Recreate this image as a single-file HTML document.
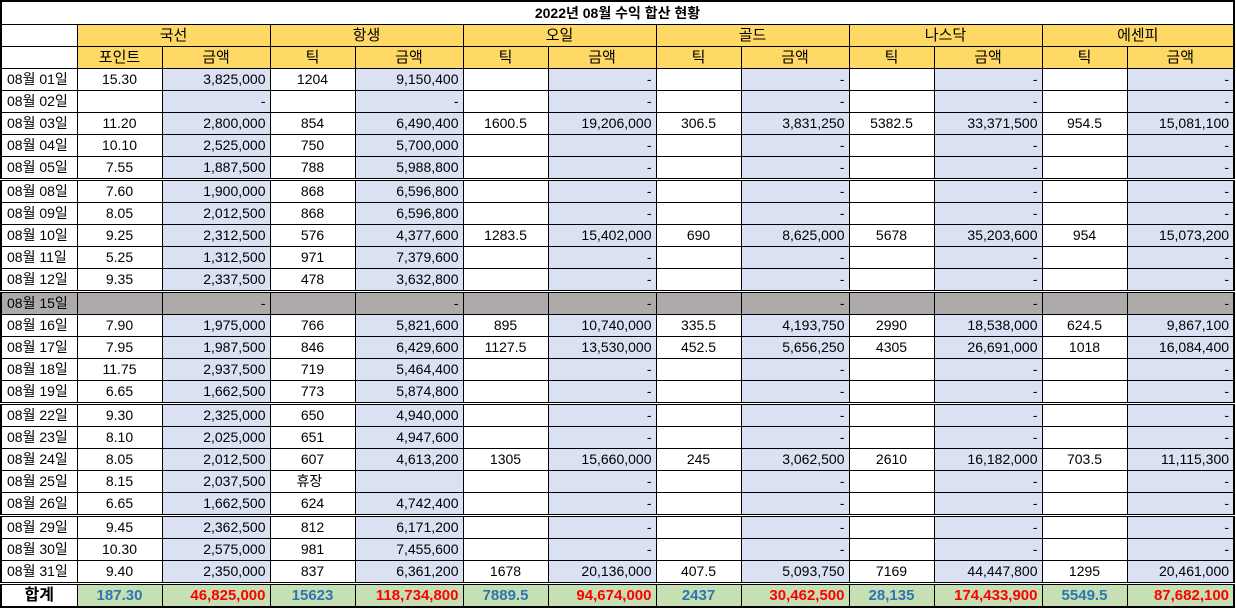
<!DOCTYPE html>
<html><head><meta charset="utf-8"><style>
html,body{margin:0;padding:0;background:#fff;}
body{width:1236px;height:609px;overflow:hidden;}
table{border-collapse:collapse;table-layout:fixed;width:1233px;font-family:"Liberation Sans","Noto Sans CJK KR",sans-serif;font-size:14px;color:#000;border:2px solid #000;}
td{border:1px solid #000;padding:0 4px;height:21px;line-height:19px;white-space:nowrap;overflow:hidden;text-align:center;}
tr.t td{height:22px;font-weight:bold;text-align:center;border-bottom:1px solid #000;}
tr.h td{background:#FFD966;height:21px;font-size:15px;}
td.d{text-align:left;padding-left:5px;}
td.a{background:#D9E1F2;text-align:right;}
tr.wk td{border-bottom:3px double #000;}
tr.g td{background:#AEAAAA;}
tr.tot td{border-top:3px double #000;background:#C6E0B4;font-weight:bold;font-size:15px;height:21px;}
tr.tot td.l{background:#fff;font-size:16px;}
td.b{color:#2E75B6;}
td.r{color:#FF0000;text-align:right;}
</style></head><body>
<table>
<colgroup><col style="width:76px"><col style="width:85px"><col style="width:108px"><col style="width:85px"><col style="width:108px"><col style="width:85px"><col style="width:108px"><col style="width:85px"><col style="width:108px"><col style="width:85px"><col style="width:108px"><col style="width:85px"><col style="width:107px"></colgroup>
<tr class="t"><td colspan="13">2022년 08월 수익 합산 현황</td></tr>
<tr class="h"><td style="background:#fff"></td><td colspan="2">국선</td><td colspan="2">항생</td><td colspan="2">오일</td><td colspan="2">골드</td><td colspan="2">나스닥</td><td colspan="2">에센피</td></tr>
<tr class="h"><td style="background:#fff"></td><td>포인트</td><td>금액</td><td>틱</td><td>금액</td><td>틱</td><td>금액</td><td>틱</td><td>금액</td><td>틱</td><td>금액</td><td>틱</td><td>금액</td></tr>
<tr><td class="d">08월 01일</td><td>15.30</td><td class="a">3,825,000</td><td>1204</td><td class="a">9,150,400</td><td></td><td class="a">-</td><td></td><td class="a">-</td><td></td><td class="a">-</td><td></td><td class="a">-</td></tr>
<tr><td class="d">08월 02일</td><td></td><td class="a">-</td><td></td><td class="a">-</td><td></td><td class="a">-</td><td></td><td class="a">-</td><td></td><td class="a">-</td><td></td><td class="a">-</td></tr>
<tr><td class="d">08월 03일</td><td>11.20</td><td class="a">2,800,000</td><td>854</td><td class="a">6,490,400</td><td>1600.5</td><td class="a">19,206,000</td><td>306.5</td><td class="a">3,831,250</td><td>5382.5</td><td class="a">33,371,500</td><td>954.5</td><td class="a">15,081,100</td></tr>
<tr><td class="d">08월 04일</td><td>10.10</td><td class="a">2,525,000</td><td>750</td><td class="a">5,700,000</td><td></td><td class="a">-</td><td></td><td class="a">-</td><td></td><td class="a">-</td><td></td><td class="a">-</td></tr>
<tr class="wk"><td class="d">08월 05일</td><td>7.55</td><td class="a">1,887,500</td><td>788</td><td class="a">5,988,800</td><td></td><td class="a">-</td><td></td><td class="a">-</td><td></td><td class="a">-</td><td></td><td class="a">-</td></tr>
<tr><td class="d">08월 08일</td><td>7.60</td><td class="a">1,900,000</td><td>868</td><td class="a">6,596,800</td><td></td><td class="a">-</td><td></td><td class="a">-</td><td></td><td class="a">-</td><td></td><td class="a">-</td></tr>
<tr><td class="d">08월 09일</td><td>8.05</td><td class="a">2,012,500</td><td>868</td><td class="a">6,596,800</td><td></td><td class="a">-</td><td></td><td class="a">-</td><td></td><td class="a">-</td><td></td><td class="a">-</td></tr>
<tr><td class="d">08월 10일</td><td>9.25</td><td class="a">2,312,500</td><td>576</td><td class="a">4,377,600</td><td>1283.5</td><td class="a">15,402,000</td><td>690</td><td class="a">8,625,000</td><td>5678</td><td class="a">35,203,600</td><td>954</td><td class="a">15,073,200</td></tr>
<tr><td class="d">08월 11일</td><td>5.25</td><td class="a">1,312,500</td><td>971</td><td class="a">7,379,600</td><td></td><td class="a">-</td><td></td><td class="a">-</td><td></td><td class="a">-</td><td></td><td class="a">-</td></tr>
<tr class="wk"><td class="d">08월 12일</td><td>9.35</td><td class="a">2,337,500</td><td>478</td><td class="a">3,632,800</td><td></td><td class="a">-</td><td></td><td class="a">-</td><td></td><td class="a">-</td><td></td><td class="a">-</td></tr>
<tr class="g"><td class="d">08월 15일</td><td></td><td class="a">-</td><td></td><td class="a">-</td><td></td><td class="a">-</td><td></td><td class="a">-</td><td></td><td class="a">-</td><td></td><td class="a">-</td></tr>
<tr><td class="d">08월 16일</td><td>7.90</td><td class="a">1,975,000</td><td>766</td><td class="a">5,821,600</td><td>895</td><td class="a">10,740,000</td><td>335.5</td><td class="a">4,193,750</td><td>2990</td><td class="a">18,538,000</td><td>624.5</td><td class="a">9,867,100</td></tr>
<tr><td class="d">08월 17일</td><td>7.95</td><td class="a">1,987,500</td><td>846</td><td class="a">6,429,600</td><td>1127.5</td><td class="a">13,530,000</td><td>452.5</td><td class="a">5,656,250</td><td>4305</td><td class="a">26,691,000</td><td>1018</td><td class="a">16,084,400</td></tr>
<tr><td class="d">08월 18일</td><td>11.75</td><td class="a">2,937,500</td><td>719</td><td class="a">5,464,400</td><td></td><td class="a">-</td><td></td><td class="a">-</td><td></td><td class="a">-</td><td></td><td class="a">-</td></tr>
<tr class="wk"><td class="d">08월 19일</td><td>6.65</td><td class="a">1,662,500</td><td>773</td><td class="a">5,874,800</td><td></td><td class="a">-</td><td></td><td class="a">-</td><td></td><td class="a">-</td><td></td><td class="a">-</td></tr>
<tr><td class="d">08월 22일</td><td>9.30</td><td class="a">2,325,000</td><td>650</td><td class="a">4,940,000</td><td></td><td class="a">-</td><td></td><td class="a">-</td><td></td><td class="a">-</td><td></td><td class="a">-</td></tr>
<tr><td class="d">08월 23일</td><td>8.10</td><td class="a">2,025,000</td><td>651</td><td class="a">4,947,600</td><td></td><td class="a">-</td><td></td><td class="a">-</td><td></td><td class="a">-</td><td></td><td class="a">-</td></tr>
<tr><td class="d">08월 24일</td><td>8.05</td><td class="a">2,012,500</td><td>607</td><td class="a">4,613,200</td><td>1305</td><td class="a">15,660,000</td><td>245</td><td class="a">3,062,500</td><td>2610</td><td class="a">16,182,000</td><td>703.5</td><td class="a">11,115,300</td></tr>
<tr><td class="d">08월 25일</td><td>8.15</td><td class="a">2,037,500</td><td style="text-align:left;padding-left:26px">휴장</td><td class="a"></td><td></td><td class="a">-</td><td></td><td class="a">-</td><td></td><td class="a">-</td><td></td><td class="a">-</td></tr>
<tr class="wk"><td class="d">08월 26일</td><td>6.65</td><td class="a">1,662,500</td><td>624</td><td class="a">4,742,400</td><td></td><td class="a">-</td><td></td><td class="a">-</td><td></td><td class="a">-</td><td></td><td class="a">-</td></tr>
<tr><td class="d">08월 29일</td><td>9.45</td><td class="a">2,362,500</td><td>812</td><td class="a">6,171,200</td><td></td><td class="a">-</td><td></td><td class="a">-</td><td></td><td class="a">-</td><td></td><td class="a">-</td></tr>
<tr><td class="d">08월 30일</td><td>10.30</td><td class="a">2,575,000</td><td>981</td><td class="a">7,455,600</td><td></td><td class="a">-</td><td></td><td class="a">-</td><td></td><td class="a">-</td><td></td><td class="a">-</td></tr>
<tr><td class="d">08월 31일</td><td>9.40</td><td class="a">2,350,000</td><td>837</td><td class="a">6,361,200</td><td>1678</td><td class="a">20,136,000</td><td>407.5</td><td class="a">5,093,750</td><td>7169</td><td class="a">44,447,800</td><td>1295</td><td class="a">20,461,000</td></tr>
<tr class="tot"><td class="l">합계</td><td class="b">187.30</td><td class="r">46,825,000</td><td class="b">15623</td><td class="r">118,734,800</td><td class="b">7889.5</td><td class="r">94,674,000</td><td class="b">2437</td><td class="r">30,462,500</td><td class="b">28,135</td><td class="r">174,433,900</td><td class="b">5549.5</td><td class="r">87,682,100</td></tr>
</table>
</body></html>
